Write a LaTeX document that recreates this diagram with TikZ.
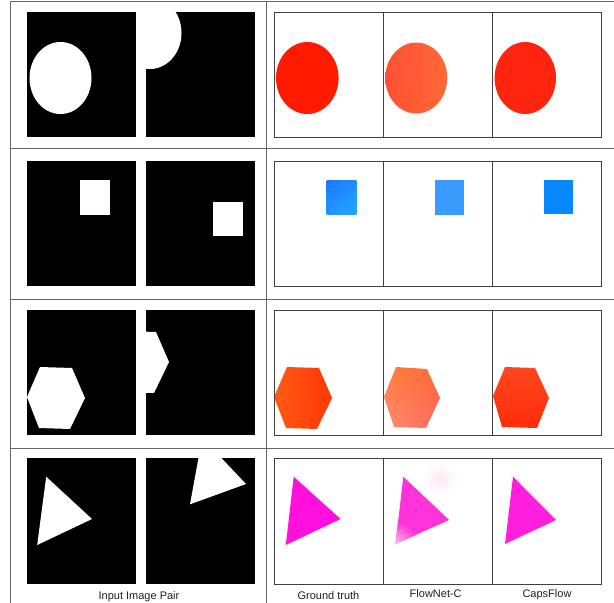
\documentclass[tikz,border=0pt]{standalone}
\usepackage{fontspec}
\setmainfont{Liberation Sans}
\usetikzlibrary{shadings}
\definecolor{cRedGT}{RGB}{255,26,0}
\definecolor{cRedFNa}{RGB}{255,80,50}
\definecolor{cRedFNb}{RGB}{255,105,55}
\definecolor{cRedCF}{RGB}{255,36,14}
\definecolor{cBlueA}{RGB}{28,118,255}
\definecolor{cBlueB}{RGB}{34,168,255}
\definecolor{cBlueC}{RGB}{30,140,255}
\definecolor{cBlueD}{RGB}{32,150,255}
\definecolor{cBlueFN}{RGB}{58,155,255}
\definecolor{cBlueCF}{RGB}{8,136,255}
\definecolor{cHexGTa}{RGB}{255,90,20}
\definecolor{cHexGTb}{RGB}{255,55,5}
\definecolor{cHexFNa}{RGB}{255,125,55}
\definecolor{cHexFNb}{RGB}{255,105,60}
\definecolor{cHexFNc}{RGB}{255,140,115}
\definecolor{cHexFNd}{RGB}{255,105,90}
\definecolor{cHexCFa}{RGB}{255,70,30}
\definecolor{cHexCFb}{RGB}{255,45,10}
\definecolor{cMagGT}{RGB}{255,16,220}
\definecolor{cMagFN}{RGB}{255,50,218}
\definecolor{cMagFNpale}{RGB}{255,190,228}
\definecolor{cMagCF}{RGB}{255,30,222}
\definecolor{cBlob}{RGB}{255,232,244}
\begin{document}
\begin{tikzpicture}[x=1pt,y=-1pt,
  tableline/.style={draw=black!60, line width=0.9pt},
  framebox/.style={draw=black!75, line width=0.9pt},
  inimg/.style={fill=black},
  lbl/.style={font=\fontsize{11}{13}\selectfont, text=black!88, anchor=base, inner sep=0pt}]
\useasboundingbox (0,0) rectangle (614,603);
% ---------- table lines ----------
\draw[tableline] (10,1.5) -- (614,1.5);
\draw[tableline] (10,148) -- (614,148);
\draw[tableline] (10,299) -- (614,299);
\draw[tableline] (10,448.3) -- (614,448.3);
\draw[tableline] (10,1.5) -- (10,603);
\draw[tableline] (266,1.5) -- (266,603);
% ================= ROW 1 : circle =================
\fill[inimg] (27,12) rectangle (136,137);
\fill[white] (60.5,78) ellipse [x radius=31, y radius=36];
\fill[inimg] (146,12) rectangle (255,137);
\begin{scope}
  \clip (146,12) rectangle (255,137);
  \fill[white] (150,33) ellipse [x radius=31.5, y radius=36];
\end{scope}
\fill[cRedGT] (307.3,78) ellipse [x radius=31.3, y radius=36];
\shade[left color=cRedFNa, right color=cRedFNb] (416.3,78) ellipse [x radius=31, y radius=35.5];
\fill[cRedCF] (525.3,78) ellipse [x radius=30.7, y radius=36];
\draw[framebox] (274,12.3) rectangle (601,137.3);
\draw[framebox] (383.3,12.3) -- (383.3,137.3);
\draw[framebox] (492,12.3) -- (492,137.3);
% ================= ROW 2 : square =================
\fill[inimg] (27,161) rectangle (136,286);
\fill[white] (80,180.3) rectangle (110,214.7);
\fill[inimg] (146,161) rectangle (255,286);
\fill[white] (213.4,202) rectangle (243.1,236.3);
\shade[upper left=cBlueA, lower right=cBlueB, upper right=cBlueC, lower left=cBlueD]
  (326.5,180.3) rectangle (356.3,214.7);
\fill[cBlueFN] (435.4,180.3) rectangle (464.4,214.5);
\fill[cBlueCF] (544.2,180.3) rectangle (573.2,214);
\draw[framebox] (274,161) rectangle (601,286.7);
\draw[framebox] (383.3,161) -- (383.3,286.7);
\draw[framebox] (492.2,161) -- (492.2,286.7);
% ================= ROW 3 : hexagon =================
\fill[inimg] (27,310) rectangle (136,435);
\begin{scope}
  \clip (27,310) rectangle (136,435);
  \fill[white] (40,367) -- (72,368) -- (85,398) -- (70,429) -- (39,428) -- (27,397) -- cycle;
\end{scope}
\fill[inimg] (146,310) rectangle (255,435);
\begin{scope}
  \clip (146,310) rectangle (255,435);
  \fill[white] (124,331) -- (156,332) -- (169,362) -- (154,393) -- (123,392) -- (111,361) -- cycle;
\end{scope}
\shade[left color=cHexGTa, right color=cHexGTb]
  (287,367) -- (319,368) -- (332,398) -- (317,429) -- (286,428) -- (274,397) -- cycle;
\shade[upper left=cHexFNa, upper right=cHexFNb, lower left=cHexFNc, lower right=cHexFNd]
  (396,367) -- (427,369) -- (440,398) -- (426,428) -- (394,427) -- (384,397) -- cycle;
\shade[top color=cHexCFa, bottom color=cHexCFb]
  (505,367) -- (535,368) -- (549,398) -- (537,428) -- (502,427) -- (493,396) -- cycle;
\draw[framebox] (274,310.7) rectangle (601,435.7);
\draw[framebox] (383.3,310.7) -- (383.3,435.7);
\draw[framebox] (492,310.7) -- (492,435.7);
% ================= ROW 4 : triangle =================
\fill[inimg] (27,458) rectangle (136,583.5);
\fill[white] (46.2,476.7) -- (92,519) -- (37.2,545) -- cycle;
\fill[inimg] (146,458) rectangle (255,583.5);
\begin{scope}
  \clip (146,458) rectangle (255,583.5);
  \fill[white] (202.2,437.8) -- (246,484) -- (190,504.3) -- cycle;
\end{scope}
\fill[cMagGT] (293.7,476.7) -- (340.6,519) -- (285.8,545) -- cycle;
\shade[inner color=cBlob, outer color=white] (440,479) circle [radius=17];
\begin{scope}
  \clip (403.3,476.7) -- (449.1,520) -- (395.5,544) -- cycle;
  \fill[cMagFN] (390,470) rectangle (455,550);
  \shade[inner color=cMagFNpale, outer color=cMagFN] (395.5,544) circle [radius=22];
\end{scope}
\fill[cMagCF] (513,476.7) -- (556,520) -- (505,544) -- cycle;
\draw[framebox] (274,458.3) rectangle (601,584.3);
\draw[framebox] (383.3,458.3) -- (383.3,584.3);
\draw[framebox] (492.2,458.3) -- (492.2,584.3);
% ================= labels =================
\node[lbl] (lin) at (139,599) {Input Image Pair};
\node[lbl] (lgt) at (328.5,599) {Ground truth};
\node[lbl] (lfn) at (435.7,597.7) {FlowNet-C};
\node[lbl] (lcf) at (547,597.7) {CapsFlow};
\end{tikzpicture}
\end{document}
